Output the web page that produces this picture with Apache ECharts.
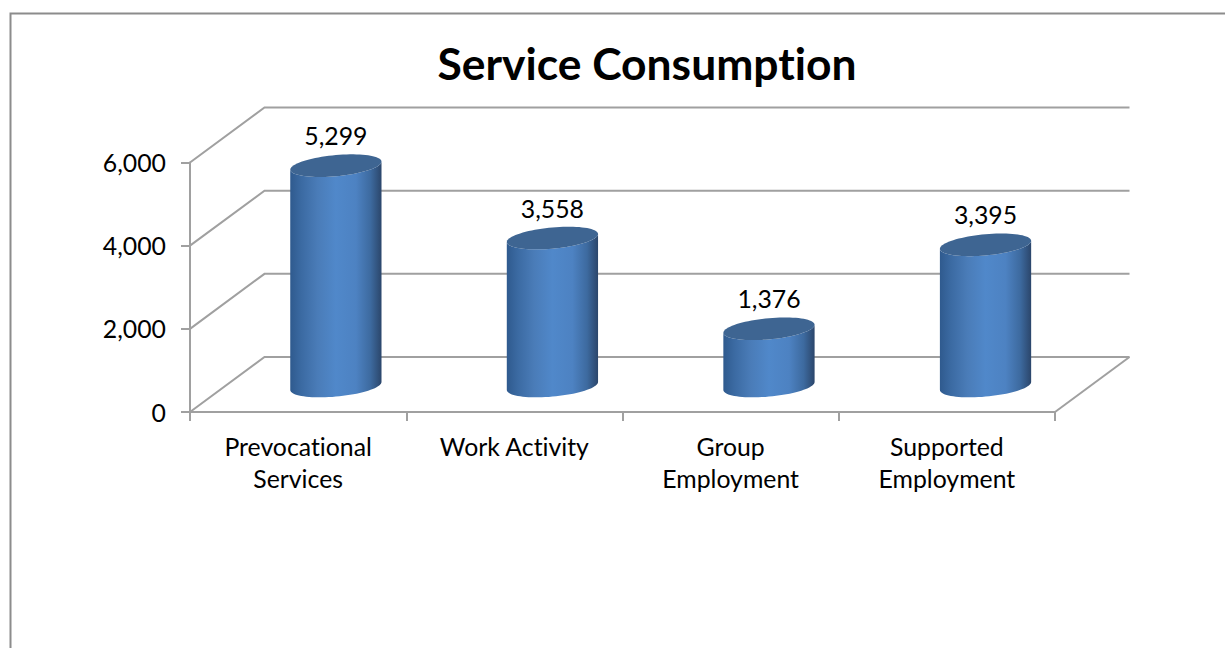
<!DOCTYPE html>
<html><head><meta charset="utf-8"><style>html,body{margin:0;padding:0;background:#fff;overflow:hidden}#c{width:1225px;height:648px}#c text{font-variant-ligatures:none;font-feature-settings:"liga" 0}</style>
<script src="https://cdn.jsdelivr.net/npm/echarts@6/dist/echarts.min.js"></script></head>
<body><div id="c"></div>
<script>
var titleText = 'Service Consumption';
var categories = ['Prevocational\nServices', 'Work Activity', 'Group\nEmployment', 'Supported\nEmployment'];
var consumption = [5299, 3558, 1376, 3395];
var yTicks = [0, 2000, 4000, 6000];
var FONT = 'Lato';
var LINE = '#a0a0a0';
var DEPTH_X = 74.5, DEPTH_Y = 55;

function fmt(v){ return String(v).replace(/\B(?=(\d{3})+$)/g, ','); }

function ellipsePts(cx, cy, rx, sk, b, from, to, n){
  var p = [];
  for (var i = 0; i <= n; i++){
    var t = from + (to - from) * i / n;
    p.push([cx + rx * Math.cos(t), cy + sk * Math.cos(t) + b * Math.sin(t)]);
  }
  return p;
}

function renderWalls(params, api){
  var cs = params.coordSys, y = api.coord([0, api.value(0)])[1];
  var x0 = cs.x, x1 = cs.x + cs.width;
  var style = {stroke: LINE, lineWidth: 2, fill: null};
  var pts = [[x0, y], [x0 + DEPTH_X, y - DEPTH_Y], [x1 + DEPTH_X, y - DEPTH_Y]];
  var children = [{type: 'polyline', shape: {points: pts}, style: style}];
  if (api.value(0) === 0) {
    children.push({type: 'line', shape: {x1: x1, y1: y, x2: x1 + DEPTH_X, y2: y - DEPTH_Y}, style: style});
  }
  return {type: 'group', children: children};
}

function renderCylinder(params, api){
  var idx = api.value(0), val = api.value(1);
  var band = api.size([1, 0])[0];
  var base = api.coord([idx, 0]), top = api.coord([idx, val]);
  var cx = base[0] + DEPTH_X / 2 + 0.5 + idx * 0.3, by = base[1] - DEPTH_Y / 2 + 1.5, ty = top[1] - DEPTH_Y / 2 + 1.5;
  var rx = band * 0.211, sk = -4, b = 10.6;
  var lower = ellipsePts(cx, by, rx, sk, b, Math.PI, 0, 40);
  var upper = ellipsePts(cx, ty, rx, sk, b, 0, Math.PI, 40);
  var cap = ellipsePts(cx, ty, rx, sk, b, 0, Math.PI * 2, 80);
  var grad = new echarts.graphic.LinearGradient(0, 0, 1, 0, [
    {offset: 0, color: '#2f5a8e'},
    {offset: 0.12, color: '#3b6aa2'},
    {offset: 0.30, color: '#4a7cb8'},
    {offset: 0.50, color: '#5088ca'},
    {offset: 0.72, color: '#4d82c2'},
    {offset: 0.88, color: '#3d6a9f'},
    {offset: 1, color: '#2b466b'}
  ]);
  return {type: 'group', children: [
    {type: 'polygon', shape: {points: lower.concat(upper)}, style: {fill: grad}},
    {type: 'polygon', shape: {points: cap}, style: {fill: '#3e6592'}},
    {type: 'text', style: {text: fmt(val), x: cx, y: ty - 30, align: 'center', verticalAlign: 'middle',
      font: '24.8px ' + FONT, fill: '#000'}}
  ]};
}

var chart = echarts.init(document.getElementById('c'), null, {renderer: 'svg'});
chart.setOption({
  animation: false,
  backgroundColor: '#fff',
  title: {text: titleText, left: 642, top: 35, textAlign: 'center',
    textStyle: {fontFamily: FONT, fontSize: 44.4, fontWeight: 'bold', color: '#000'}},
  graphic: [{type: 'polyline', silent: true, z: -1,
    shape: {points: [[10.5, 660], [10.5, 13.5], [1240, 13.5]]},
    style: {stroke: '#8c8c8c', lineWidth: 2, fill: null}}],
  grid: {left: 190, right: 170, top: 162.5, bottom: 236},
  xAxis: {type: 'category', data: categories,
    axisLine: {lineStyle: {color: LINE, width: 2}},
    axisTick: {show: true, length: 9, alignWithLabel: false, lineStyle: {color: LINE, width: 2}},
    axisLabel: {color: '#000', fontFamily: FONT, fontSize: 24.8, lineHeight: 32, margin: 18, interval: 0}},
  yAxis: {type: 'value', min: 0, max: 6000, interval: 2000,
    axisLine: {show: true, lineStyle: {color: LINE, width: 2}},
    axisTick: {show: true, length: 9, lineStyle: {color: LINE, width: 2}},
    splitLine: {show: false},
    axisLabel: {color: '#000', fontFamily: FONT, fontSize: 24.8, margin: 24, padding: [9, 0, 0, 0], formatter: fmt}},
  series: [
    {type: 'custom', coordinateSystem: 'cartesian2d', z: 1, silent: true, clip: false,
     renderItem: renderWalls, encode: {y: 0}, data: yTicks.map(function(v){ return [v]; })},
    {type: 'custom', coordinateSystem: 'cartesian2d', z: 2, silent: true, clip: false,
     renderItem: renderCylinder, encode: {x: 0, y: 1},
     data: consumption.map(function(v, i){ return [i, v]; })}
  ]
});
</script></body></html>
